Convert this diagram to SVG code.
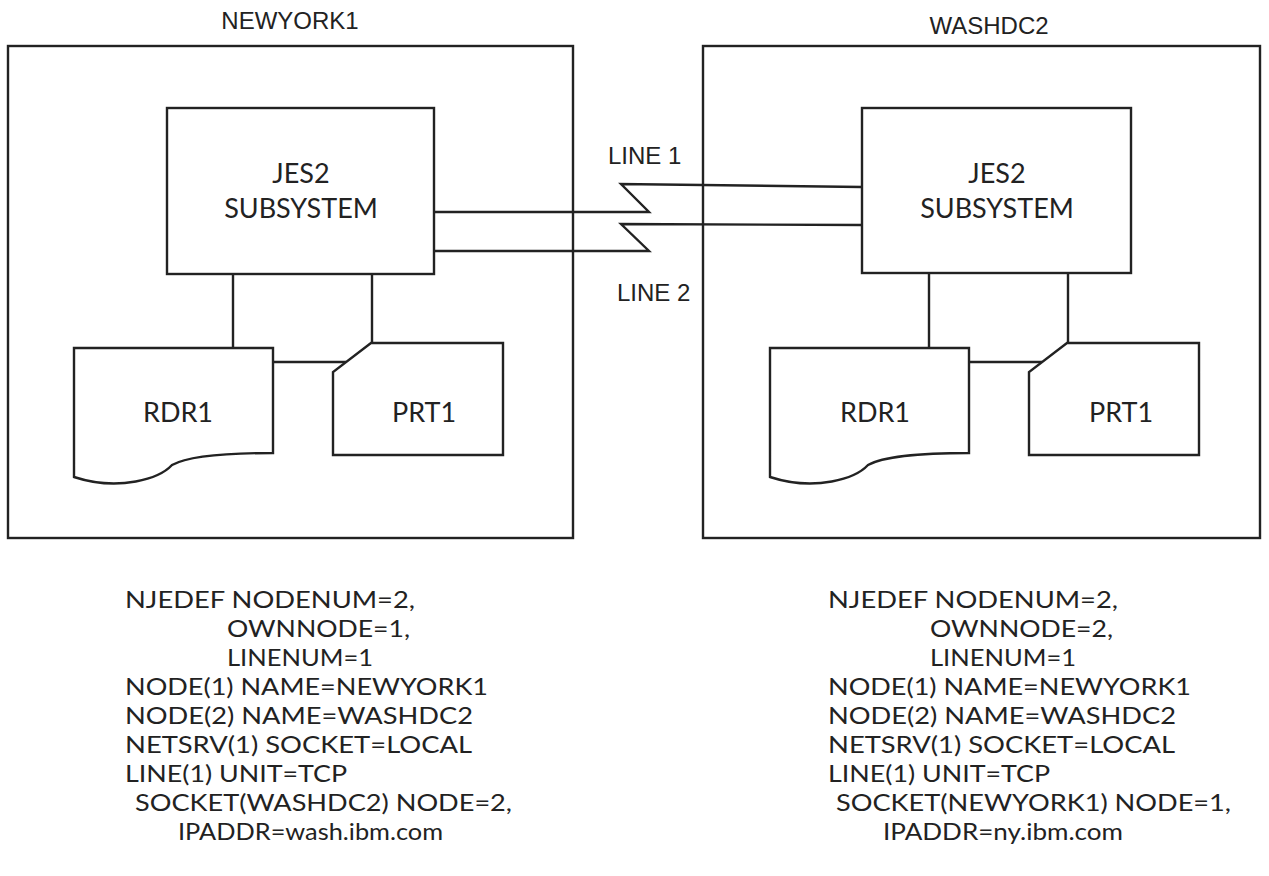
<svg xmlns="http://www.w3.org/2000/svg" width="1269" height="876" viewBox="0 0 1269 876">
<style>
.bx{fill:#fff;stroke:#222;stroke-width:2.4}
.ln{fill:none;stroke:#222;stroke-width:2.4}
.ar{font-family:"Liberation Sans",Arial,sans-serif;font-size:24px;fill:#222}
.gs{font-family:Lato,"Open Sans",sans-serif;font-size:27px;fill:#222}
.cf text{font-family:Lato,"Open Sans",sans-serif;font-size:24px;fill:#222}
.mid{text-anchor:middle}
</style>
<rect width="1269" height="876" fill="#fff"/>
<g id="newyork1">
<rect class="bx" x="8" y="46" width="565" height="492"/>
<text class="ar mid" x="290" y="29">NEWYORK1</text>
</g>
<g id="washdc2">
<rect class="bx" x="703" y="46" width="557" height="492"/>
<text class="ar mid" x="989" y="34">WASHDC2</text>
</g>
<g id="connectors">
<path class="ln" d="M434,212 H649 L621,184 L862,187"/>
<path class="ln" d="M434,251 H649 L621,224 L862,225"/>
<text class="ar" x="608" y="164">LINE 1</text>
<text class="ar" x="617" y="301">LINE 2</text>
<path class="ln" d="M233,274 V348 M372,274 V343 M273,362 H346"/>
<path class="ln" d="M929,273 V348 M1068,273 V343 M969,362 H1042"/>
</g>
<g id="jes2-ny">
<rect class="bx" x="167" y="108" width="267" height="166"/>
<text class="gs mid" x="301" y="183">JES2</text>
<text class="gs mid" x="301" y="218">SUBSYSTEM</text>
</g>
<g id="rdr1-ny">
<path class="bx" d="M74,348 H273 V453 C240,453 190,455 172,465 C160,478 120,492 74,477 Z"/>
<text class="gs mid" x="178" y="422">RDR1</text>
</g>
<g id="prt1-ny">
<path class="bx" d="M371,343 H503 V455 H333 V372 Z"/>
<text class="gs mid" x="424" y="422">PRT1</text>
</g>
<g id="jes2-wash">
<rect class="bx" x="862" y="108" width="269" height="165"/>
<text class="gs mid" x="997" y="183">JES2</text>
<text class="gs mid" x="997" y="218">SUBSYSTEM</text>
</g>
<g id="rdr1-wash">
<path class="bx" d="M770,348 H969 V453 C936,453 886,455 868,465 C856,478 816,492 770,477 Z"/>
<text class="gs mid" x="875" y="422">RDR1</text>
</g>
<g id="prt1-wash">
<path class="bx" d="M1067,343 H1199 V455 H1029 V372 Z"/>
<text class="gs mid" x="1121" y="422">PRT1</text>
</g>
<g id="config-ny" class="cf">
<text x="125" y="608" textLength="290" lengthAdjust="spacingAndGlyphs">NJEDEF NODENUM=2,</text>
<text x="227" y="637" textLength="183" lengthAdjust="spacingAndGlyphs">OWNNODE=1,</text>
<text x="227" y="666" textLength="146" lengthAdjust="spacingAndGlyphs">LINENUM=1</text>
<text x="125" y="695" textLength="363" lengthAdjust="spacingAndGlyphs">NODE(1) NAME=NEWYORK1</text>
<text x="125" y="724" textLength="348" lengthAdjust="spacingAndGlyphs">NODE(2) NAME=WASHDC2</text>
<text x="125" y="753" textLength="347" lengthAdjust="spacingAndGlyphs">NETSRV(1) SOCKET=LOCAL</text>
<text x="125" y="782" textLength="222" lengthAdjust="spacingAndGlyphs">LINE(1) UNIT=TCP</text>
<text x="135" y="811" textLength="377" lengthAdjust="spacingAndGlyphs">SOCKET(WASHDC2) NODE=2,</text>
<text x="178" y="840" textLength="265" lengthAdjust="spacingAndGlyphs">IPADDR=wash.ibm.com</text>
</g>
<g id="config-wash" class="cf">
<text x="828" y="608" textLength="290" lengthAdjust="spacingAndGlyphs">NJEDEF NODENUM=2,</text>
<text x="930" y="637" textLength="183" lengthAdjust="spacingAndGlyphs">OWNNODE=2,</text>
<text x="930" y="666" textLength="146" lengthAdjust="spacingAndGlyphs">LINENUM=1</text>
<text x="828" y="695" textLength="363" lengthAdjust="spacingAndGlyphs">NODE(1) NAME=NEWYORK1</text>
<text x="828" y="724" textLength="348" lengthAdjust="spacingAndGlyphs">NODE(2) NAME=WASHDC2</text>
<text x="828" y="753" textLength="347" lengthAdjust="spacingAndGlyphs">NETSRV(1) SOCKET=LOCAL</text>
<text x="828" y="782" textLength="222" lengthAdjust="spacingAndGlyphs">LINE(1) UNIT=TCP</text>
<text x="836" y="811" textLength="395" lengthAdjust="spacingAndGlyphs">SOCKET(NEWYORK1) NODE=1,</text>
<text x="883" y="840" textLength="240" lengthAdjust="spacingAndGlyphs">IPADDR=ny.ibm.com</text>
</g>
</svg>
